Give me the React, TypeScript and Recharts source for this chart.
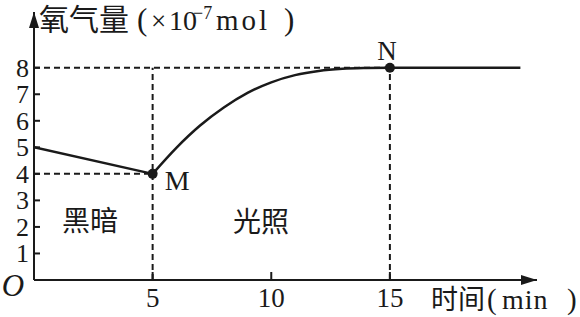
import { ComposedChart, Line, XAxis, YAxis, ReferenceLine, ReferenceDot } from 'recharts';

// dark phase (0-5 min), straight decline
const darkTime = [0, 5];
const darkO2 = [5, 4];

// light phase (5 min onwards), rising then levelling off
const lightTime = [5, 6, 7, 8, 9, 10, 11, 12, 13, 14, 15, 20.5];
const lightO2 = [4, 4.98, 5.82, 6.5, 7.05, 7.45, 7.72, 7.88, 7.96, 7.99, 8, 8];

const xTicks = [5, 10, 15];
const yTicks = [1, 2, 3, 4, 5, 6, 7, 8];

const darkData = darkTime.map((t, i) => ({ t, o2: darkO2[i] }));
const lightData = lightTime.map((t, i) => ({ t, o2: lightO2[i] }));

const SERIF = '"Liberation Serif", "DejaVu Serif", serif';
const CJK = '"Noto Sans CJK SC", sans-serif';
const INK = '#1a1a1a';

function YTick({ x, y, payload }: any) {
  return (
    <g>
      <line x1={x} y1={y} x2={x + 6} y2={y} stroke={INK} strokeWidth={2} />
      <text x={x - 5} y={y + 9} textAnchor="end" fontFamily={SERIF} fontSize={26} fill={INK}>
        {payload.value}
      </text>
    </g>
  );
}

function XTick({ x, y, payload }: any) {
  return (
    <g>
      <line x1={x} y1={y} x2={x} y2={y - 8} stroke={INK} strokeWidth={2} />
      <text x={x} y={y + 27} textAnchor="middle" fontFamily={SERIF} fontSize={27} fill={INK}>
        {payload.value}
      </text>
    </g>
  );
}

const dash = { stroke: INK, strokeWidth: 2, strokeDasharray: '6 4' };

export default function App() {
  return (
    <div style={{ width: 580, height: 317, background: '#fff' }}>
      <style>{'body{margin:0}'}</style>
      <ComposedChart width={580} height={317} margin={{ top: 12, right: 43, bottom: 0, left: 0 }}>
        <defs>
          <marker id="arrow" viewBox="0 0 16 10" refX="16" refY="5" markerWidth="16" markerHeight="10"
            markerUnits="userSpaceOnUse" orient="auto-start-reverse">
            <path d="M0,0 L16,5 L0,10 Z" fill={INK} />
          </marker>
        </defs>
        <XAxis
          type="number"
          dataKey="t"
          domain={[0, 21.2]}
          allowDataOverflow
          ticks={xTicks}
          height={37}
          tickSize={0}
          tickMargin={0}
          tickLine={false}
          tick={<XTick />}
          axisLine={{ stroke: INK, strokeWidth: 2, markerEnd: 'url(#arrow)' }}
        />
        <YAxis
          type="number"
          dataKey="o2"
          domain={[0, 10.1]}
          allowDataOverflow
          ticks={yTicks}
          width={34}
          tickSize={0}
          tickMargin={0}
          tickLine={false}
          tick={<YTick />}
          axisLine={{ stroke: INK, strokeWidth: 2, markerStart: 'url(#arrow)' }}
        />

        <ReferenceLine segment={[{ x: 0, y: 8 }, { x: 15, y: 8 }]} {...dash} />
        <ReferenceLine segment={[{ x: 0, y: 4 }, { x: 5, y: 4 }]} {...dash} />
        <ReferenceLine segment={[{ x: 5, y: 0 }, { x: 5, y: 8 }]} {...dash} />
        <ReferenceLine segment={[{ x: 15, y: 0 }, { x: 15, y: 8 }]} {...dash} />

        <Line data={darkData} dataKey="o2" type="linear" stroke={INK} strokeWidth={2.5} dot={false} isAnimationActive={false} />
        <Line data={lightData} dataKey="o2" type="monotone" stroke={INK} strokeWidth={2.5} dot={false} isAnimationActive={false} />

        <ReferenceDot x={5} y={4} r={5} fill={INK} stroke="none"
          label={({ viewBox }: any) => (
            <text x={viewBox.x + viewBox.width / 2 + 12} y={viewBox.y + viewBox.height / 2 + 16}
              fontFamily={SERIF} fontSize={28} fill={INK}>M</text>
          )} />
        <ReferenceDot x={15} y={8} r={5} fill={INK} stroke="none"
          label={({ viewBox }: any) => (
            <text x={viewBox.x + viewBox.width / 2 - 3} y={viewBox.y + viewBox.height / 2 - 8}
              textAnchor="middle" fontFamily={SERIF} fontSize={27} fill={INK}>N</text>
          )} />

        {/* axis titles and phase labels */}
        <text y={30} fill={INK}>
          <tspan x={39} fontFamily={CJK} fontSize={30}>氧气量</tspan>
          <tspan x={137} fontFamily={SERIF} fontSize={31}>(</tspan>
          <tspan x={151} fontFamily={SERIF} fontSize={27}>×</tspan>
          <tspan x={169} fontFamily={SERIF} fontSize={28}>10</tspan>
          <tspan x={193} dy={-11} fontFamily={SERIF} fontSize={18}>−7</tspan>
          <tspan x={216} dy={11} fontFamily={SERIF} fontSize={29} letterSpacing={3}>mol</tspan>
          <tspan x={284} fontFamily={SERIF} fontSize={31}>)</tspan>
        </text>
        <text y={309} fill={INK}>
          <tspan x={431} fontFamily={CJK} fontSize={27}>时间</tspan>
          <tspan x={487} fontFamily={SERIF} fontSize={29}>(</tspan>
          <tspan x={502} fontFamily={SERIF} fontSize={28} letterSpacing={1}>min</tspan>
          <tspan x={567} fontFamily={SERIF} fontSize={29}>)</tspan>
        </text>
        <text x={13} y={296} textAnchor="middle" fontFamily={SERIF} fontStyle="italic" fontSize={31} fill={INK}>O</text>
        <text x={90} y={231} textAnchor="middle" fontFamily={CJK} fontSize={28} fill={INK}>黑暗</text>
        <text x={261} y={232} textAnchor="middle" fontFamily={CJK} fontSize={28} fill={INK}>光照</text>
      </ComposedChart>
    </div>
  );
}
